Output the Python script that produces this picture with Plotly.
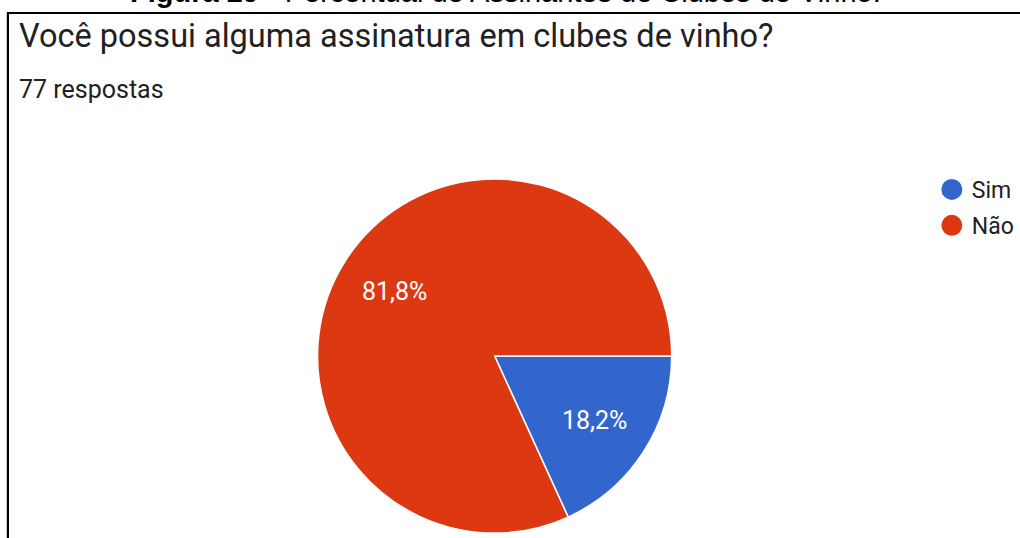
import math
import plotly.graph_objects as go

W, H = 1020, 538

# Data
labels = ["Sim", "Não"]
counts = [14, 63]
colors = ["#3366CC", "#DC3912"]
question = "Você possui alguma assinatura em clubes de vinho?"
responses = "77 respostas"
caption_bold = "Figura 29"
caption_rest = " - Percentual de Assinantes de Clubes de Vinho:"


def px(x):
    return x / W


def py(y):
    return 1 - y / H


cx, cy, r = 500, 356, 179

fig = go.Figure()
fig.add_trace(go.Pie(
    labels=labels,
    values=counts,
    marker=dict(colors=colors, line=dict(color="white", width=1.5)),
    sort=False,
    direction="clockwise",
    rotation=90,
    textinfo="none",
    domain=dict(x=[px(cx - r), px(cx + r)], y=[py(cy + r), py(cy - r)]),
    showlegend=False,
    hoverinfo="label+percent",
))

for lab, col in zip(labels, colors):
    fig.add_trace(go.Scatter(
        x=[None], y=[None], mode="markers", name=lab,
        marker=dict(symbol="circle", size=16, color=col,
                    line=dict(color=col, width=5)),
        legendgroup=lab, showlegend=True,
    ))

# percentage labels placed along each slice's mid-angle (clockwise from 3 o'clock)
total = sum(counts)
annotations = []
cum = 0
for c in counts:
    frac = c / total
    mid = (cum + frac / 2) * 2 * math.pi
    cum += frac
    lx = cx + 0.67 * r * math.cos(mid)
    ly = cy + 0.67 * r * math.sin(mid)
    annotations.append(dict(
        text=f"{frac * 100:.1f}%".replace(".", ","),
        x=px(lx), y=py(ly), xref="paper", yref="paper",
        xanchor="center", yanchor="middle", showarrow=False,
        font=dict(family="Roboto", size=25, color="white")))

annotations += [
    dict(text=question, x=px(17), y=py(36), xref="paper", yref="paper",
         xanchor="left", yanchor="middle", showarrow=False,
         font=dict(family="Roboto", size=32.5, color="#212121")),
    dict(text=responses, x=px(17), y=py(90), xref="paper", yref="paper",
         xanchor="left", yanchor="middle", showarrow=False,
         font=dict(family="Roboto", size=25, color="#212121")),
    dict(text="<b>" + caption_bold + "</b>" + caption_rest,
         x=px(511), y=py(-8), xref="paper", yref="paper",
         xanchor="center", yanchor="middle", showarrow=False,
         font=dict(family="Liberation Sans", size=29, color="black")),
]

fig.update_layout(
    width=W, height=H, autosize=False,
    margin=dict(l=0, r=0, t=0, b=0),
    paper_bgcolor="white", plot_bgcolor="white",
    separators=",.",
    xaxis=dict(visible=False), yaxis=dict(visible=False),
    legend=dict(
        x=px(942), y=py(168), xanchor="left", yanchor="top",
        font=dict(family="Roboto", size=23, color="#212121"),
        tracegroupgap=3, itemsizing="trace",
        bgcolor="rgba(0,0,0,0)",
    ),
    shapes=[
        dict(type="rect", xref="paper", yref="paper",
             x0=px(8), x1=px(1040), y0=py(560), y1=py(13),
             line=dict(color="black", width=2.2), fillcolor="rgba(0,0,0,0)"),
    ],
    annotations=annotations,
)

fig.write_html("out.html", config={"displayModeBar": False},
               post_script="document.body.style.margin='0px';")
